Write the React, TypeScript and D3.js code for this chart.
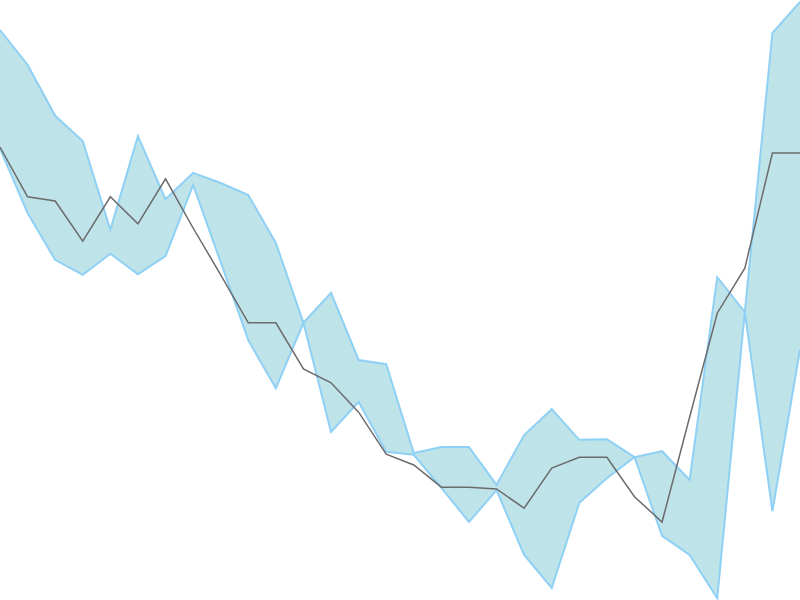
import * as d3 from "d3";
import React, { useEffect, useRef } from "react";

// band edges and the middle line, one value per step
const upperValues = [
  95.0, 89.2, 80.7, 76.5, 61.7, 77.3, 66.8, 71.2, 69.5, 67.5,
  59.5, 46.2, 51.2, 40.0, 39.3, 24.5, 25.5, 25.5, 19.2, 27.5,
  31.8, 26.7, 26.8, 23.8, 24.8, 20.0, 53.8, 48.0, 94.5, 99.7,
];
const lowerValues = [
  75.2, 64.5, 56.7, 54.2, 57.7, 54.3, 57.3, 69.2, 56.3, 43.3,
  35.3, 46.2, 28.0, 33.0, 24.7, 24.2, 18.7, 13.0, 18.3, 7.5,
  2.0, 16.2, 20.3, 23.8, 10.7, 7.5, 0.3, 48.0, 14.8, 41.7,
];
const lineValues = [
  75.5, 67.2, 66.5, 59.8, 67.2, 62.7, 70.2, 62.0, 54.2, 46.2,
  46.2, 38.5, 36.2, 31.3, 24.3, 22.5, 18.8, 18.8, 18.5, 15.3,
  22.0, 23.8, 23.8, 17.2, 13.0, 30.5, 47.8, 55.3, 74.5, 74.5,
];

const width = 800;
const height = 600;

const App: React.FC = () => {
  const svgRef = useRef<SVGSVGElement | null>(null);

  useEffect(() => {
    const svg = d3.select(svgRef.current).html("");

    const x = d3
      .scaleLinear()
      .domain([0, upperValues.length - 1])
      .range([0, width]);
    const y = d3.scaleLinear().domain([0, 100]).range([height, 0]);

    const band = upperValues.map((u, i) => [u, lowerValues[i]]);

    // fill between the two edges
    svg
      .append("path")
      .datum(band)
      .attr("fill", "#bee3e9")
      .attr("stroke", "none")
      .attr(
        "d",
        d3
          .area<number[]>()
          .x((_d, i) => x(i))
          .y0((d) => y(d[1]))
          .y1((d) => y(d[0]))
      );

    const edge = d3
      .line<number>()
      .x((_d, i) => x(i))
      .y((d) => y(d));

    [upperValues, lowerValues].forEach((vals) => {
      svg
        .append("path")
        .datum(vals)
        .attr("fill", "none")
        .attr("stroke", "#8fd0f5")
        .attr("stroke-width", 2)
        .attr("stroke-linejoin", "miter")
        .attr("d", edge);
    });

    svg
      .append("path")
      .datum(lineValues)
      .attr("fill", "none")
      .attr("stroke", "#6b6b6b")
      .attr("stroke-width", 1.5)
      .attr("d", edge);
  }, []);

  return (
    <svg
      ref={svgRef}
      width={width}
      height={height}
      style={{ position: "fixed", left: 0, top: 0, background: "#fff" }}
    ></svg>
  );
};

export default App;
